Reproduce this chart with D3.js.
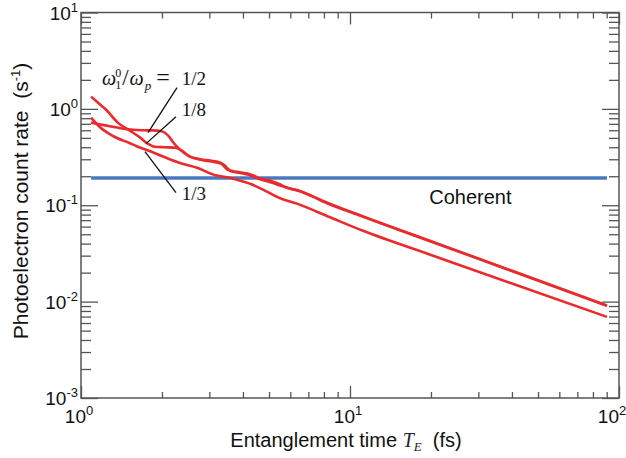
<!DOCTYPE html>
<html>
<head>
<meta charset="utf-8">
<script src="https://cdnjs.cloudflare.com/ajax/libs/d3/7.8.5/d3.min.js"></script>
<style>
  body { margin: 0; background: #fff; }
  svg { display: block; }
</style>
</head>
<body>
<script>
// values (T_E in fs, count rate in 1/s)
var halfT = [1.09, 1.18, 1.28, 1.40, 1.53, 1.70, 1.85, 1.97, 2.05, 2.12, 2.20, 2.33, 2.54, 2.77, 3.05, 3.30, 3.50, 3.80, 4.10, 4.40, 4.60, 5.00, 5.40, 5.90, 6.40, 7.10, 7.90, 11.18, 20, 40, 90.2];
var halfV = [0.72, 0.69, 0.66, 0.63, 0.61, 0.60, 0.598, 0.59, 0.565, 0.52, 0.45, 0.38, 0.32, 0.30, 0.29, 0.276, 0.235, 0.222, 0.215, 0.203, 0.19, 0.182, 0.168, 0.150, 0.143, 0.127, 0.110, 0.0762, 0.0421, 0.0208, 0.00903];

var eighthT = [1.09, 1.16, 1.24, 1.37, 1.52, 1.66, 1.77, 1.88, 2.05, 2.24, 2.37, 2.54, 2.70, 2.90, 3.15, 3.40, 3.60, 3.90, 4.20, 4.45, 4.70, 5.10, 5.50, 6.00, 6.50, 7.20, 7.94, 11.18, 20, 40, 90.2];
var eighthV = [1.34, 1.15, 0.98, 0.72, 0.594, 0.503, 0.436, 0.405, 0.40, 0.396, 0.368, 0.319, 0.304, 0.290, 0.280, 0.262, 0.226, 0.216, 0.207, 0.195, 0.184, 0.172, 0.160, 0.149, 0.140, 0.125, 0.111, 0.0764, 0.0423, 0.0209, 0.0091];

var thirdT = [1.09, 1.18, 1.32, 1.52, 1.61, 1.80, 2.02, 2.33, 2.70, 3.16, 3.50, 3.80, 4.30, 4.75, 5.50, 6.35, 8.43, 11.18, 20, 40, 90.2];
var thirdV = [0.81, 0.64, 0.52, 0.44, 0.41, 0.365, 0.32, 0.275, 0.245, 0.205, 0.195, 0.184, 0.165, 0.145, 0.118, 0.104, 0.075, 0.0543, 0.0305, 0.0154, 0.00695];

var coherentT = [1.09, 90.2];
var coherentV = [0.192, 0.192];

var xMajor = [1, 10, 100];
var yMajor = [1e-3, 1e-2, 1e-1, 1, 10];

// label anchors in data units
var fracLabels = [
  { text: '1/2', t: 2.37, v: 1.786 },
  { text: '1/8', t: 2.37, v: 0.85 },
  { text: '1/3', t: 2.37, v: 0.114 }
];
var leaders = [
  { t1: 2.275, v1: 1.66, t2: 1.775, v2: 0.567 },
  { t1: 2.255, v1: 0.83, t2: 1.745, v2: 0.436 },
  { t1: 1.729, v1: 0.360, t2: 2.255, v2: 0.135 }
];
var omegaAt = { t: 1.197, v: 1.786 };
var coherentAt = { t: 19.7, v: 0.104 };

(function() {
  var width = 626, height = 458;
  var mLeft = 81, mRight = 619, mTop = 12.5, mBottom = 398;
  var axisColor = '#555';
  var red = '#ec2a2e';
  var blue = '#4a78c0';
  var sans = 'Liberation Sans, Arial, sans-serif';
  var serif = 'Liberation Serif, Times New Roman, serif';

  var svg = d3.select('body').append('svg')
    .attr('width', width)
    .attr('height', height);

  var x = d3.scaleLog().domain([1, 100]).range([mLeft, mRight]);
  var y = d3.scaleLog().domain([1e-3, 10]).range([mBottom, mTop]);

  var xMinor = x.ticks().filter(function(d) {
    return xMajor.every(function(m) { return Math.abs(m - d) / m > 1e-6; });
  });
  var yMinor = y.ticks().filter(function(d) {
    return yMajor.every(function(m) { return Math.abs(m - d) / m > 1e-6; });
  });

  function addAxis(axis, tx, ty) {
    var g = svg.append('g')
      .attr('transform', 'translate(' + tx + ',' + ty + ')')
      .call(axis);
    g.select('.domain').remove();
    g.selectAll('text').remove();
    g.selectAll('line').attr('stroke', axisColor).attr('stroke-width', 1.3);
  }

  // ticks point inward on all four sides
  addAxis(d3.axisLeft(y).tickValues(yMinor).tickSize(-10).tickFormat(''), mLeft, 0);
  addAxis(d3.axisLeft(y).tickValues(yMajor).tickSize(-17).tickFormat(''), mLeft, 0);
  addAxis(d3.axisRight(y).tickValues(yMinor).tickSize(-10).tickFormat(''), mRight, 0);
  addAxis(d3.axisRight(y).tickValues(yMajor).tickSize(-17).tickFormat(''), mRight, 0);
  addAxis(d3.axisBottom(x).tickValues(xMinor).tickSize(-6).tickFormat(''), 0, mBottom);
  addAxis(d3.axisBottom(x).tickValues(xMajor).tickSize(-12).tickFormat(''), 0, mBottom);
  addAxis(d3.axisTop(x).tickValues(xMinor).tickSize(-6).tickFormat(''), 0, mTop);
  addAxis(d3.axisTop(x).tickValues(xMajor).tickSize(-12).tickFormat(''), 0, mTop);

  svg.append('rect')
    .attr('x', mLeft)
    .attr('y', mTop)
    .attr('width', mRight - mLeft)
    .attr('height', mBottom - mTop)
    .attr('fill', 'none')
    .attr('stroke', axisColor)
    .attr('stroke-width', 1.5);

  // tick labels as 10^n
  function powerLabel(sel) {
    sel.each(function(d) {
      var t = d3.select(this);
      t.append('tspan').text('10');
      t.append('tspan').attr('dy', -8).attr('font-size', 13).text(Math.round(Math.log10(d)));
    });
  }

  svg.selectAll('.xlab')
    .data(xMajor)
    .enter()
    .append('text')
    .attr('class', 'xlab')
    .attr('x', function(d) { return Math.min(x(d) - 2, width - 14); })
    .attr('y', mBottom + 25)
    .attr('text-anchor', 'middle')
    .attr('font-family', sans)
    .attr('font-size', 19)
    .attr('fill', '#111')
    .call(powerLabel);

  svg.selectAll('.ylab')
    .data(yMajor)
    .enter()
    .append('text')
    .attr('class', 'ylab')
    .attr('x', mLeft - 3)
    .attr('y', function(d) { return y(d) + 7; })
    .attr('text-anchor', 'end')
    .attr('font-family', sans)
    .attr('font-size', 19)
    .attr('fill', '#111')
    .call(powerLabel);

  // axis titles
  var xt = svg.append('text')
    .attr('x', 346)
    .attr('y', 447)
    .attr('text-anchor', 'middle')
    .attr('font-family', sans)
    .attr('font-size', 20)
    .attr('fill', '#111');
  xt.append('tspan').text('Entanglement time ');
  xt.append('tspan').attr('font-family', serif).attr('font-style', 'italic').attr('fill', '#223').text('T');
  xt.append('tspan').attr('font-family', serif).attr('font-style', 'italic').attr('font-size', 13).attr('dy', 4).attr('fill', '#223').text('E');
  xt.append('tspan').attr('dy', -4).text('\u00a0\u00a0(fs)');

  var yt = svg.append('text')
    .attr('transform', 'translate(28,201) rotate(-90)')
    .attr('text-anchor', 'middle')
    .attr('font-family', sans)
    .attr('font-size', 21)
    .attr('fill', '#111');
  yt.append('tspan').text('Photoelectron count rate\u00a0\u00a0(s');
  yt.append('tspan').attr('dy', -8).attr('font-size', 13).text('-1');
  yt.append('tspan').attr('dy', 8).text(')');

  // data lines
  var line = d3.line()
    .x(function(d) { return x(d[0]); })
    .y(function(d) { return y(d[1]); })
    .curve(d3.curveMonotoneX);

  svg.append('path')
    .datum(d3.zip(coherentT, coherentV))
    .attr('d', line)
    .attr('fill', 'none')
    .attr('stroke', blue)
    .attr('stroke-width', 3.5);

  [[halfT, halfV], [eighthT, eighthV], [thirdT, thirdV]].forEach(function(s) {
    svg.append('path')
      .datum(d3.zip(s[0], s[1]))
      .attr('d', line)
      .attr('fill', 'none')
      .attr('stroke', red)
      .attr('stroke-width', 2.6)
      .attr('stroke-linejoin', 'round');
  });

  // annotations
  svg.selectAll('.leader')
    .data(leaders)
    .enter()
    .append('line')
    .attr('x1', function(d) { return x(d.t1); })
    .attr('y1', function(d) { return y(d.v1); })
    .attr('x2', function(d) { return x(d.t2); })
    .attr('y2', function(d) { return y(d.v2); })
    .attr('stroke', '#111')
    .attr('stroke-width', 1.3);

  svg.selectAll('.frac')
    .data(fracLabels)
    .enter()
    .append('text')
    .attr('x', function(d) { return x(d.t); })
    .attr('y', function(d) { return y(d.v); })
    .attr('font-family', serif)
    .attr('font-size', 19)
    .attr('fill', '#111')
    .text(function(d) { return d.text; });

  var om = svg.append('text')
    .attr('x', x(omegaAt.t))
    .attr('y', y(omegaAt.v))
    .attr('font-family', serif)
    .attr('font-size', 20)
    .attr('fill', '#111');
  om.append('tspan').attr('font-style', 'italic').text('\u03c9');
  om.append('tspan').attr('font-size', 12).attr('dy', 4).attr('dx', -1).text('1');
  om.append('tspan').attr('font-size', 12).attr('dy', -12).attr('dx', -6).text('0');
  om.append('tspan').attr('font-size', 23).attr('dy', 8).attr('dx', 1).text('/');
  om.append('tspan').attr('font-style', 'italic').attr('dx', 1).text('\u03c9');
  om.append('tspan').attr('font-style', 'italic').attr('font-size', 13).attr('dy', 5).attr('dx', 1).text('p');
  om.append('tspan').attr('font-size', 24).attr('dy', -5).attr('dx', 5).text('=');

  svg.append('text')
    .attr('x', x(coherentAt.t))
    .attr('y', y(coherentAt.v))
    .attr('font-family', sans)
    .attr('font-size', 20)
    .attr('fill', '#111')
    .text('Coherent');
})();
</script>
</body>
</html>
